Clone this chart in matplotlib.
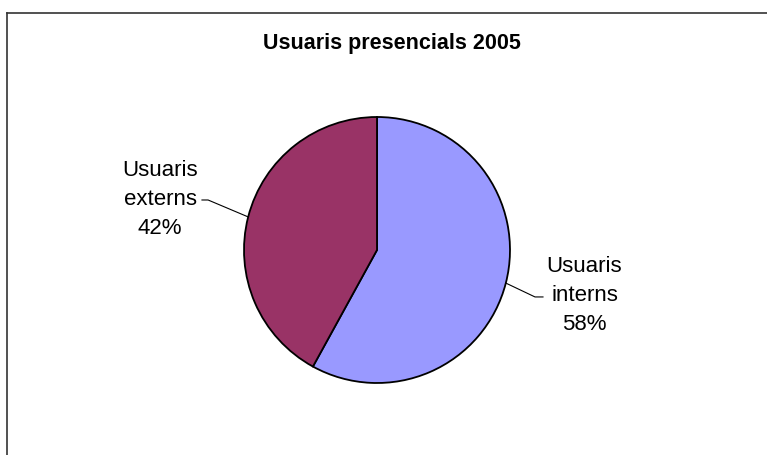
import numpy as np
import matplotlib.pyplot as plt
from matplotlib.lines import Line2D

# Data
categories = ['Usuaris interns', 'Usuaris externs']
shares = [58, 42]
colors = ['#9999FF', '#993366']
title = 'Usuaris presencials 2005'

plt.rcParams['font.family'] = ['Liberation Sans', 'DejaVu Sans']

fig = plt.figure(figsize=(7.67, 4.55), dpi=100)

# chart area border (only top and left visible in the original crop)
fig.add_artist(Line2D([7 / 767, 1], [1 - 13 / 455, 1 - 13 / 455], color='#333333', lw=1.2))
fig.add_artist(Line2D([7 / 767, 7 / 767], [0, 1 - 13 / 455], color='#333333', lw=1.2))

fig.text(392 / 767, 1 - 43 / 455, title, ha='center', va='center',
         fontsize=15.5, fontweight='bold')

# pie axes: square of 266 px centred at (377, 250)
ax = fig.add_axes([244 / 767, 1 - 383 / 455, 266 / 767, 266 / 455])
wedges, _ = ax.pie(shares, colors=colors, startangle=90, counterclock=False,
                   radius=1.0, wedgeprops=dict(edgecolor='black', linewidth=1.3))
ax.set_xlim(-1, 1)
ax.set_ylim(-1, 1)
ax.set_aspect('auto')
ax.axis('off')

# label placement (data coords of the pie axes)
label_pos = [(1.56, -0.34), (-1.63, 0.383)]
elbow_x = [(1.188, 1.248), (-1.27, -1.316)]

for w, cat, s, (lx, ly), (ex, tx) in zip(wedges, categories, shares, label_pos, elbow_x):
    mid = np.deg2rad((w.theta1 + w.theta2) / 2)
    px, py = np.cos(mid), np.sin(mid)
    ey = ly - 0.013 if lx > 0 else ly - 0.007
    ax.plot([px, ex, tx], [py, ey, ey], color='black', lw=0.8, clip_on=False)
    name = cat.split(' ')
    ax.text(lx, ly, f'{name[0]}\n{name[1]}\n{s}%', ha='center', va='center',
            multialignment='center', fontsize=16, linespacing=1.5, clip_on=False)

fig.savefig('out.png', dpi=100)
